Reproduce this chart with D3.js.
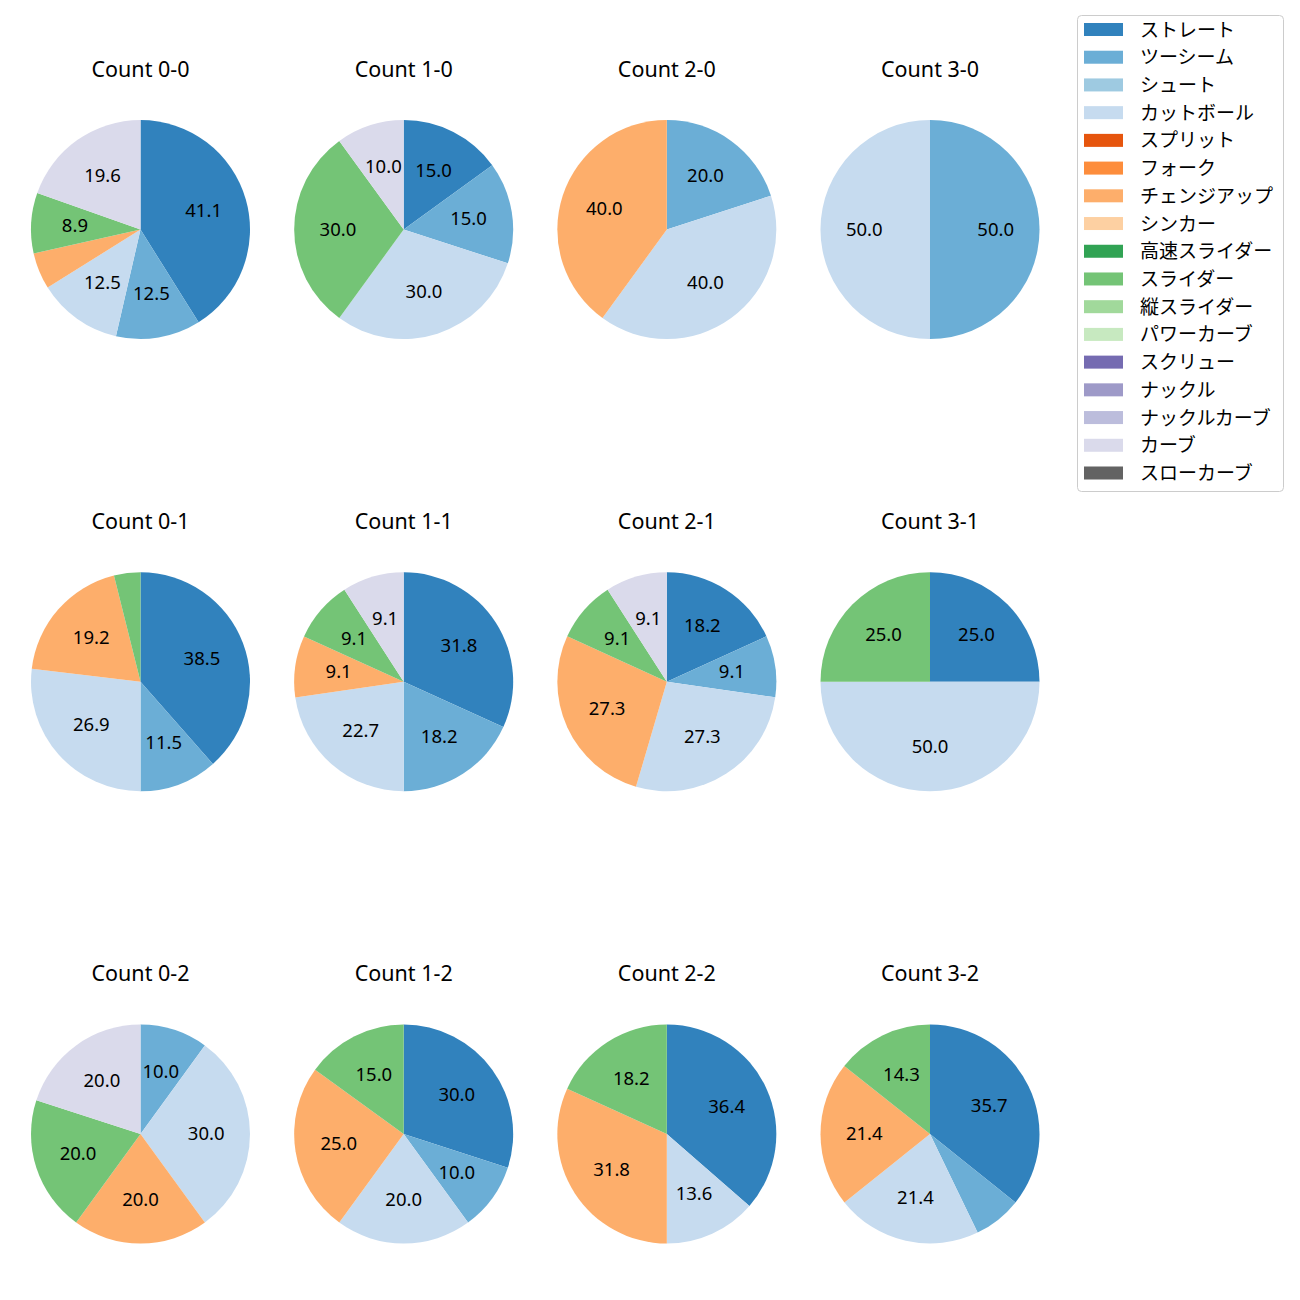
<!DOCTYPE html>
<html>
<head>
<meta charset="utf-8">
<script src="https://cdn.jsdelivr.net/npm/d3@7"></script>
<style>
  html, body { margin: 0; padding: 0; background: #fff; }
  svg text { font-family: "Noto Sans", "Noto Sans CJK JP", sans-serif; }
</style>
</head>
<body>
<svg id="chart" width="1300" height="1300"></svg>
<script>
// Pitch types (legend order) and colours
const pitchTypes = ["ストレート","ツーシーム","シュート","カットボール","スプリット","フォーク","チェンジアップ","シンカー","高速スライダー","スライダー","縦スライダー","パワーカーブ","スクリュー","ナックル","ナックルカーブ","カーブ","スローカーブ"];
const pitchColors = ["#3182bd","#6baed6","#9ecae1","#c6dbef","#e6550d","#fd8d3c","#fdae6b","#fdd0a2","#31a354","#74c476","#a1d99b","#c7e9c0","#756bb1","#9e9ac8","#bcbddc","#dadaeb","#636363"];

// Panel titles, row-major (3 rows x 4 cols)
const panelTitles = ["Count 0-0","Count 1-0","Count 2-0","Count 3-0",
                     "Count 0-1","Count 1-1","Count 2-1","Count 3-1",
                     "Count 0-2","Count 1-2","Count 2-2","Count 3-2"];

// Percentages per panel, in legend order (0 = not thrown)
const c00 = [41.1,12.5,0,12.5,0,0,5.4,0,0,8.9,0,0,0,0,0,19.6,0];
const c10 = [15.0,15.0,0,30.0,0,0,0,0,0,30.0,0,0,0,0,0,10.0,0];
const c20 = [0,20.0,0,40.0,0,0,40.0,0,0,0,0,0,0,0,0,0,0];
const c30 = [0,50.0,0,50.0,0,0,0,0,0,0,0,0,0,0,0,0,0];
const c01 = [38.5,11.5,0,26.9,0,0,19.2,0,0,3.9,0,0,0,0,0,0,0];
const c11 = [31.8,18.2,0,22.7,0,0,9.1,0,0,9.1,0,0,0,0,0,9.1,0];
const c21 = [18.2,9.1,0,27.3,0,0,27.3,0,0,9.1,0,0,0,0,0,9.1,0];
const c31 = [25.0,0,0,50.0,0,0,0,0,0,25.0,0,0,0,0,0,0,0];
const c02 = [0,10.0,0,30.0,0,0,20.0,0,0,20.0,0,0,0,0,0,20.0,0];
const c12 = [30.0,10.0,0,20.0,0,0,25.0,0,0,15.0,0,0,0,0,0,0,0];
const c22 = [36.4,0,0,13.6,0,0,31.8,0,0,18.2,0,0,0,0,0,0,0];
const c32 = [35.7,7.1,0,21.4,0,0,21.4,0,0,14.3,0,0,0,0,0,0,0];
const panelValues = [c00,c10,c20,c30,c01,c11,c21,c31,c02,c12,c22,c32];

const labelThreshold = 8; // smaller slices carry no label

const svg = d3.select("#chart");
const color = d3.scaleOrdinal().domain(pitchTypes).range(pitchColors);

const colX = d3.scalePoint().domain([0,1,2,3]).range([140.5, 930]);
const rowY = d3.scalePoint().domain([0,1,2]).range([229.5, 1134]);
const radius = 109.5;

const pie = d3.pie().sort(null).value(d => d.v).startAngle(0).endAngle(2*Math.PI);
const arc = d3.arc().innerRadius(0).outerRadius(radius);
const labelArc = d3.arc().innerRadius(radius*0.6).outerRadius(radius*0.6);

panelValues.forEach((vals, i) => {
  const col = i % 4, row = Math.floor(i / 4);
  const cx = colX(col), cy = rowY(row);
  const data = pitchTypes.map((t, k) => ({t, v: vals[k]})).filter(d => d.v > 0);
  const total = d3.sum(data, d => d.v);
  const g = svg.append("g").attr("transform", `translate(${cx},${cy})`);
  const arcs = pie(data);
  g.selectAll("path").data(arcs).join("path")
    .attr("d", arc)
    .attr("fill", d => color(d.data.t));
  g.selectAll("text.lbl").data(arcs.filter(d => d.data.v / total * 100 >= labelThreshold)).join("text")
    .attr("class","lbl")
    .attr("transform", d => { const c = labelArc.centroid(d); return `translate(${c[0]},${c[1] - 1.5})`; })
    .attr("text-anchor","middle")
    .attr("dominant-baseline","central")
    .attr("font-size", 18.5)
    .attr("fill","#000")
    .text(d => (d.data.v / total * 100).toFixed(1));
  svg.append("text")
    .attr("x", cx).attr("y", cy - 153)
    .attr("text-anchor","middle")
    .attr("font-size", 21.5)
    .attr("fill","#000")
    .text(panelTitles[i]);
});

// Legend
const legX = 1077, legY = 15, legW = 206, legH = 476;
const leg = svg.append("g");
leg.append("rect")
  .attr("x", legX + 0.5).attr("y", legY + 0.5)
  .attr("width", legW).attr("height", legH)
  .attr("rx", 4).attr("ry", 4)
  .attr("fill", "#fff").attr("fill-opacity", 0.8)
  .attr("stroke", "#cccccc").attr("stroke-width", 1);
const legRow = d3.scaleLinear().domain([0, pitchTypes.length - 1]).range([29.5, 473]);
pitchTypes.forEach((t, k) => {
  const y = legRow(k);
  leg.append("rect")
    .attr("x", 1084).attr("y", y - 6.5)
    .attr("width", 39).attr("height", 13)
    .attr("fill", color(t));
  leg.append("text")
    .attr("x", 1140).attr("y", y)
    .attr("dominant-baseline","central")
    .attr("font-size", 19)
    .attr("fill","#000")
    .text(t);
});
</script>
</body>
</html>
